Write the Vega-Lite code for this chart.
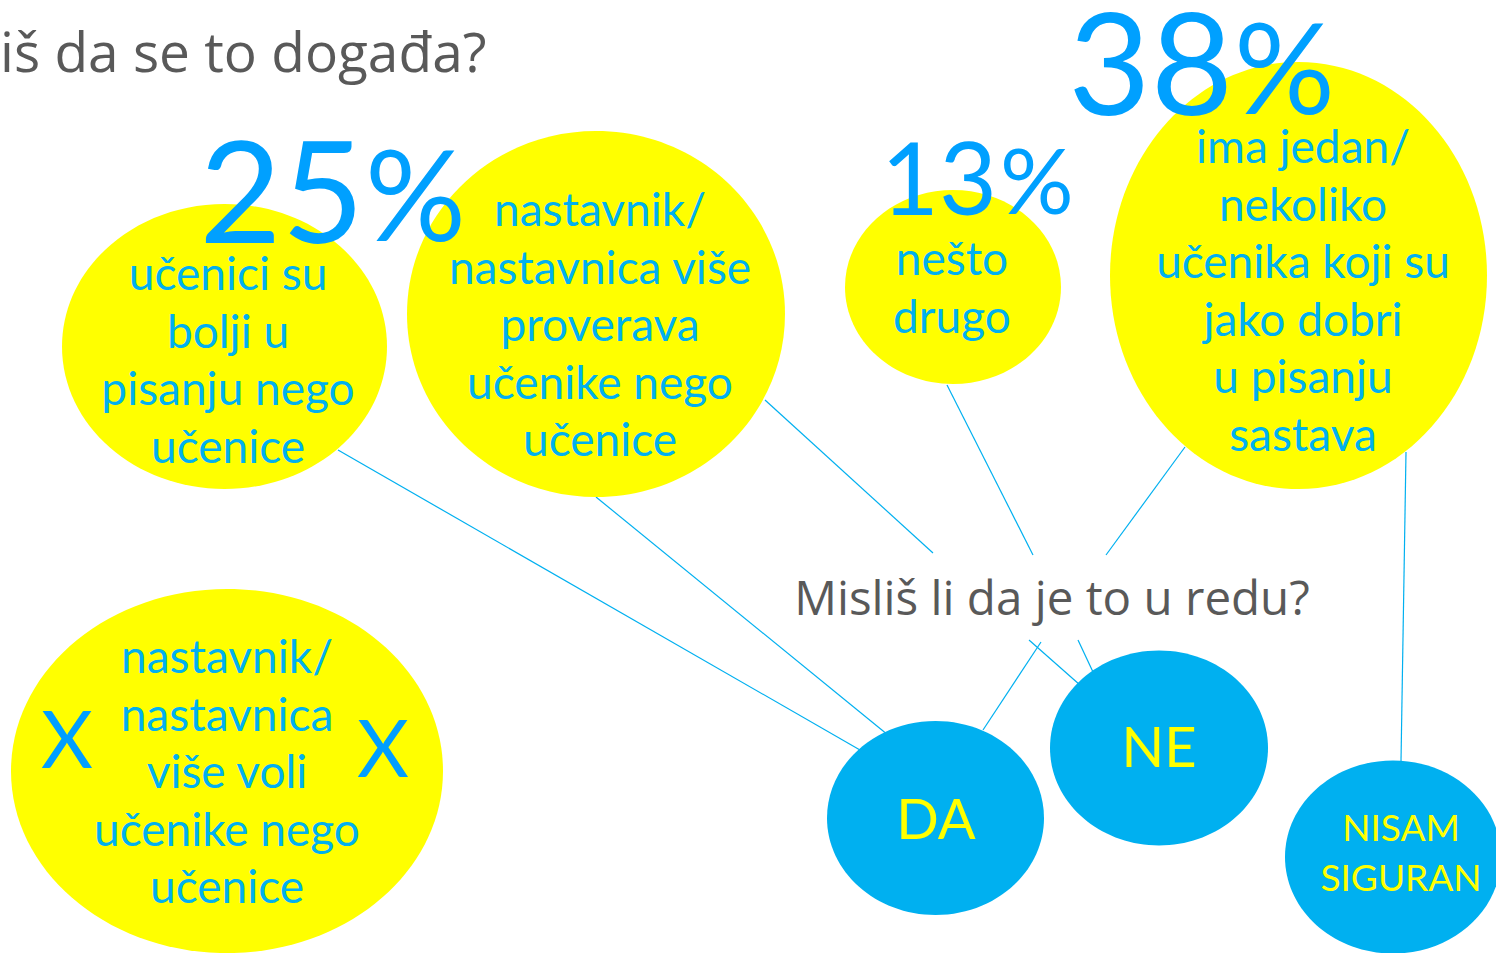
{
  "$schema": "https://vega.github.io/schema/vega-lite/v6.json",
  "width": 1496,
  "height": 953,
  "autosize": {"type": "none"},
  "padding": 0,
  "background": "white",
  "config": {"view": {"stroke": null}},
  "datasets": {
    "lines": [
      {"x": 338, "y": 450, "x2": 860, "y2": 750},
      {"x": 596, "y": 497, "x2": 888, "y2": 735},
      {"x": 765, "y": 400, "x2": 933, "y2": 553},
      {"x": 1029, "y": 640, "x2": 1080, "y2": 685},
      {"x": 947, "y": 385, "x2": 1033, "y2": 555},
      {"x": 1078, "y": 640, "x2": 1093, "y2": 672},
      {"x": 1185, "y": 447, "x2": 1106, "y2": 555},
      {"x": 1041, "y": 642, "x2": 983, "y2": 730},
      {"x": 1406, "y": 452, "x2": 1401, "y2": 762}
    ],
    "ellipses": [
      {"id": "e1", "kind": "option", "x": 224.5, "y": 346.5, "rx": 162.5},
      {"id": "e2", "kind": "option", "x": 596, "y": 314, "rx": 189},
      {"id": "e3", "kind": "option", "x": 953, "y": 287, "rx": 108},
      {"id": "e4", "kind": "option", "x": 1298.5, "y": 275.5, "rx": 188.5},
      {"id": "e5", "kind": "option", "x": 227, "y": 771, "rx": 216},
      {"id": "r", "kind": "response", "x": 935.5, "y": 818, "rx": 108.5},
      {"id": "r", "kind": "response", "x": 1159, "y": 748, "rx": 109},
      {"id": "r", "kind": "response", "x": 1393, "y": 857, "rx": 108}
    ],
    "optionText": [
      {"x": 228, "y": 276, "text": "učenici su\nbolji u\npisanju nego\nučenice"},
      {"x": 600, "y": 212, "text": "nastavnik/\nnastavnica više\nproverava\nučenike nego\nučenice"},
      {"x": 952, "y": 261, "text": "nešto\ndrugo"},
      {"x": 1303, "y": 149, "text": "ima jedan/\nnekoliko\nučenika koji su\njako dobri\nu pisanju\nsastava"},
      {"x": 227, "y": 659, "text": "nastavnik/\nnastavnica\nviše voli\nučenike nego\nučenice"}
    ],
    "responseText": [
      {"x": 936, "y": 822, "text": "DA"},
      {"x": 1159, "y": 750, "text": "NE"}
    ],
    "responseSmall": [
      {"x": 1401, "y": 830, "text": "NISAM\nSIGURAN"}
    ],
    "gray": [
      {"x": 0, "y": 72, "text": "iš da se to događa?"}
    ],
    "question": [
      {"x": 1052, "y": 615, "text": "Misliš li da je to u redu?"}
    ],
    "crosses": [
      {"x": 67, "y": 768, "text": "X"},
      {"x": 383, "y": 777, "text": "X"}
    ],
    "bigNumbers": [
      {"x": 364, "y": 243, "text": "25"},
      {"x": 1233, "y": 115, "text": "38"}
    ],
    "bigPct": [
      {"x": 365, "y": 241, "text": "%"},
      {"x": 1234, "y": 114, "text": "%"}
    ],
    "smallNumbers": [
      {"x": 997, "y": 215, "text": "13"}
    ],
    "smallPct": [
      {"x": 1000, "y": 214, "text": "%"}
    ]
  },
  "encoding": {
    "x": {"field": "x", "type": "quantitative", "scale": {"domain": [0, 1496], "nice": false, "zero": false}, "axis": null},
    "y": {"field": "y", "type": "quantitative", "scale": {"domain": [0, 953], "nice": false, "zero": false, "reverse": true}, "axis": null}
  },
  "layer": [
    {
      "data": {"name": "lines"},
      "mark": {"type": "rule", "color": "#00B0F0", "strokeWidth": 1.2},
      "encoding": {
        "x2": {"field": "x2"},
        "y2": {"field": "y2"}
      }
    },
    {
      "data": {"name": "ellipses"},
      "mark": {"type": "point", "filled": true, "opacity": 1, "strokeWidth": 0},
      "encoding": {
        "shape": {
          "field": "id", "type": "nominal", "legend": null,
          "scale": {
            "domain": ["e1", "e2", "e3", "e4", "e5", "r"],
            "range": [
              "M-1 0C-1 -0.4844 -0.5523 -0.877 0 -0.877C0.5523 -0.877 1 -0.4844 1 0C1 0.4844 0.5523 0.877 0 0.877C-0.5523 0.877 -1 0.4844 -1 0Z",
              "M-1 0C-1 -0.5346 -0.5523 -0.968 0 -0.968C0.5523 -0.968 1 -0.5346 1 0C1 0.5346 0.5523 0.968 0 0.968C-0.5523 0.968 -1 0.5346 -1 0Z",
              "M-1 0C-1 -0.496 -0.5523 -0.898 0 -0.898C0.5523 -0.898 1 -0.496 1 0C1 0.496 0.5523 0.898 0 0.898C-0.5523 0.898 -1 0.496 -1 0Z",
              "M-1 0C-1 -0.6258 -0.5523 -1.133 0 -1.133C0.5523 -1.133 1 -0.6258 1 0C1 0.6258 0.5523 1.133 0 1.133C-0.5523 1.133 -1 0.6258 -1 0Z",
              "M-1 0C-1 -0.4656 -0.5523 -0.843 0 -0.843C0.5523 -0.843 1 -0.4656 1 0C1 0.4656 0.5523 0.843 0 0.843C-0.5523 0.843 -1 0.4656 -1 0Z",
              "M-1 0C-1 -0.4938 -0.5523 -0.894 0 -0.894C0.5523 -0.894 1 -0.4938 1 0C1 0.4938 0.5523 0.894 0 0.894C-0.5523 0.894 -1 0.4938 -1 0Z"
            ]
          }
        },
        "size": {"field": "rx", "type": "quantitative", "legend": null, "scale": {"type": "pow", "exponent": 2, "domain": [0, 100], "range": [0, 40000]}},
        "color": {"field": "kind", "type": "nominal", "legend": null, "scale": {"domain": ["option", "response"], "range": ["#FFFF00", "#00B0F0"]}}
      }
    },
    {
      "data": {"name": "optionText"},
      "mark": {"type": "text", "font": "Lato", "fontSize": 46, "lineHeight": 57.5, "lineBreak": "\n", "color": "#00B0F0", "align": "center", "baseline": "middle"},
      "encoding": {"text": {"field": "text"}}
    },
    {
      "data": {"name": "responseText"},
      "mark": {"type": "text", "font": "Lato", "fontSize": 56, "color": "#FFFF00", "align": "center", "baseline": "middle"},
      "encoding": {"text": {"field": "text"}}
    },
    {
      "data": {"name": "responseSmall"},
      "mark": {"type": "text", "font": "Lato", "fontSize": 37, "lineHeight": 50, "lineBreak": "\n", "color": "#FFFF00", "align": "center", "baseline": "middle"},
      "encoding": {"text": {"field": "text"}}
    },
    {
      "data": {"name": "gray"},
      "mark": {"type": "text", "font": "Open Sans", "fontSize": 55, "color": "#595959", "align": "left", "baseline": "alphabetic"},
      "encoding": {"text": {"field": "text"}}
    },
    {
      "data": {"name": "question"},
      "mark": {"type": "text", "font": "Open Sans", "fontSize": 47.5, "color": "#595959", "align": "center", "baseline": "alphabetic"},
      "encoding": {"text": {"field": "text"}}
    },
    {
      "data": {"name": "crosses"},
      "mark": {"type": "text", "font": "Lato", "fontSize": 80, "color": "#009EFF", "align": "center", "baseline": "alphabetic"},
      "encoding": {"text": {"field": "text"}}
    },
    {
      "data": {"name": "bigNumbers"},
      "mark": {"type": "text", "font": "Lato", "fontSize": 142, "color": "#00A0FF", "align": "right", "baseline": "alphabetic"},
      "encoding": {"text": {"field": "text"}}
    },
    {
      "data": {"name": "bigPct"},
      "mark": {"type": "text", "font": "Lato", "fontSize": 126, "color": "#00A0FF", "align": "left", "baseline": "alphabetic"},
      "encoding": {"text": {"field": "text"}}
    },
    {
      "data": {"name": "smallNumbers"},
      "mark": {"type": "text", "font": "Lato", "fontSize": 100, "color": "#00A0FF", "align": "right", "baseline": "alphabetic"},
      "encoding": {"text": {"field": "text"}}
    },
    {
      "data": {"name": "smallPct"},
      "mark": {"type": "text", "font": "Lato", "fontSize": 92, "color": "#00A0FF", "align": "left", "baseline": "alphabetic"},
      "encoding": {"text": {"field": "text"}}
    }
  ]
}
